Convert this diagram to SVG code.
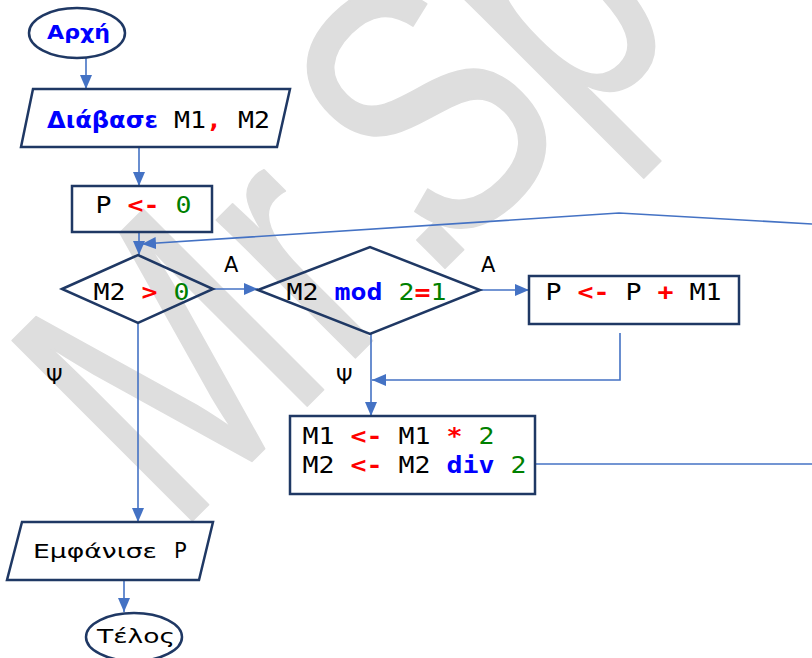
<svg xmlns="http://www.w3.org/2000/svg" width="812" height="658" viewBox="0 0 812 658">
  <defs>
    <marker id="arrow" markerUnits="userSpaceOnUse" markerWidth="14" markerHeight="12" refX="14" refY="6" orient="auto">
      <path d="M0,0 L14,6 L0,12 Z" fill="#4472c4"/>
    </marker>
    <style>
      .shape { fill: none; stroke: #1f3864; stroke-width: 2.5; }
      .conn { fill: none; stroke: #4472c4; stroke-width: 1.6; }
      .arr { marker-end: url(#arrow); }
      .code { font-family: "DejaVu Sans Mono", "Liberation Mono", monospace; font-size: 23px; fill: #000; }
      .word { font-family: "DejaVu Sans", "Noto Sans", sans-serif; fill: #000; }
      .kw { fill: #0000ff; font-weight: bold; }
      .op { fill: #ff0000; font-weight: bold; }
      .num { fill: #008000; }
      .lbl { font-family: "DejaVu Sans", "Noto Sans", sans-serif; font-size: 21px; fill: #000; }
      .wm { font-family: "Liberation Sans", Arial, sans-serif; font-size: 370px; fill: #dedede; stroke: #dedede; stroke-width: 2; stroke-linejoin: round; }
    </style>
  </defs>

  <rect width="812" height="658" fill="#ffffff"/>

  <!-- watermark, set along a diagonal baseline -->
  <text class="wm" transform="translate(200,513) rotate(-45) scale(0.75,1)"><tspan x="-45">M</tspan><tspan x="267">r</tspan><tspan x="428">.</tspan><tspan x="470">S</tspan><tspan x="709">p</tspan></text>

  <!-- connectors -->
  <g id="connectors">
    <line class="conn arr" x1="86" y1="58" x2="86" y2="89"/>
    <line class="conn arr" x1="139" y1="147" x2="139" y2="186"/>
    <line class="conn arr" x1="139" y1="232" x2="139" y2="255"/>
    <line class="conn arr" x1="213" y1="289" x2="258" y2="289"/>
    <line class="conn arr" x1="480" y1="290" x2="529" y2="290"/>
    <line class="conn arr" x1="371" y1="334" x2="371" y2="416"/>
    <polyline class="conn arr" points="620,333 620,380 372,380"/>
    <line class="conn" x1="535" y1="464" x2="812" y2="464"/>
    <polyline class="conn arr" points="812,224 619,213 142,244"/>
    <line class="conn arr" x1="138" y1="323" x2="138" y2="522"/>
    <line class="conn arr" x1="124" y1="580" x2="124" y2="612"/>
    <text class="lbl" x="224" y="272">A</text>
    <text class="lbl" x="481" y="272">A</text>
    <text class="lbl" x="46" y="384">Ψ</text>
    <text class="lbl" x="336" y="384">Ψ</text>
  </g>

  <!-- start -->
  <g id="start">
    <ellipse class="shape" cx="77" cy="33" rx="48" ry="25"/>
    <text class="word kw" x="47" y="39" font-size="19" textLength="63" lengthAdjust="spacingAndGlyphs">Αρχή</text>
  </g>

  <!-- read input -->
  <g id="read">
    <polygon class="shape" points="33,89 290,89 277,147 21,147"/>
    <text class="word kw" x="47" y="128" font-size="23" textLength="111" lengthAdjust="spacingAndGlyphs">Διάβασε</text>
    <text class="code" x="174" y="128" textLength="96" lengthAdjust="spacingAndGlyphs" xml:space="preserve">M1<tspan class="op">,</tspan> M2</text>
  </g>

  <!-- init -->
  <g id="init">
    <rect class="shape" x="72" y="186" width="140" height="46"/>
    <text class="code" x="95.5" y="213" textLength="96" lengthAdjust="spacingAndGlyphs" xml:space="preserve">P <tspan class="op">&lt;-</tspan> <tspan class="num">0</tspan></text>
  </g>

  <!-- loop condition -->
  <g id="cond-loop">
    <polygon class="shape" points="62,289 138,255 213,289 138,323"/>
    <text class="code" x="93.5" y="300" textLength="96" lengthAdjust="spacingAndGlyphs" xml:space="preserve">M2 <tspan class="op">&gt;</tspan> <tspan class="num">0</tspan></text>
  </g>

  <!-- odd test -->
  <g id="cond-odd">
    <polygon class="shape" points="258,290 370,247 480,290 370,334"/>
    <text class="code" x="286.5" y="300" textLength="160" lengthAdjust="spacingAndGlyphs" xml:space="preserve">M2 <tspan class="kw">mod</tspan> <tspan class="num">2</tspan><tspan class="op">=</tspan><tspan class="num">1</tspan></text>
  </g>

  <!-- accumulate -->
  <g id="accumulate">
    <rect class="shape" x="529" y="276" width="210" height="48"/>
    <text class="code" x="545.5" y="300" textLength="176" lengthAdjust="spacingAndGlyphs" xml:space="preserve">P <tspan class="op">&lt;-</tspan> P <tspan class="op">+</tspan> M1</text>
  </g>

  <!-- double / halve -->
  <g id="update">
    <rect class="shape" x="290" y="416" width="245" height="78"/>
    <text class="code" x="302.5" y="444" textLength="192" lengthAdjust="spacingAndGlyphs" xml:space="preserve">M1 <tspan class="op">&lt;-</tspan> M1 <tspan class="op">*</tspan> <tspan class="num">2</tspan></text>
    <text class="code" x="302.5" y="473" textLength="224" lengthAdjust="spacingAndGlyphs" xml:space="preserve">M2 <tspan class="op">&lt;-</tspan> M2 <tspan class="kw">div</tspan> <tspan class="num">2</tspan></text>
  </g>

  <!-- output -->
  <g id="output">
    <polygon class="shape" points="22,522 213,522 199,580 7,580"/>
    <text class="word" x="33" y="558" font-size="20" textLength="124" lengthAdjust="spacingAndGlyphs">Εμφάνισε</text>
    <text class="word" x="174" y="558" font-size="21">P</text>
  </g>

  <!-- end -->
  <g id="end">
    <ellipse class="shape" cx="134" cy="637" rx="48" ry="24"/>
    <text class="word" x="97" y="643" font-size="20" textLength="78" lengthAdjust="spacingAndGlyphs">Τέλος</text>
  </g>
</svg>
